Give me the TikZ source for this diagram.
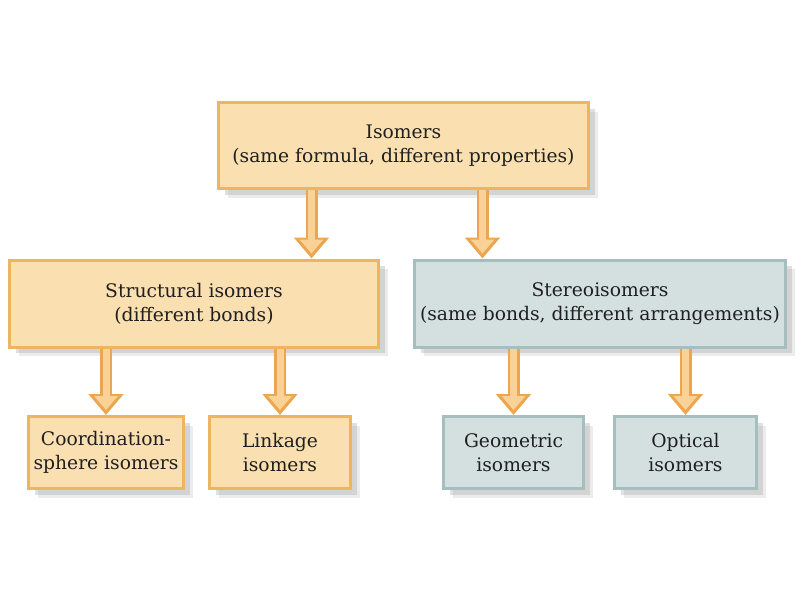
\documentclass[tikz,border=0pt]{standalone}
\usepackage{fontspec}
\setmainfont{DejaVu Serif}
\usetikzlibrary{arrows.meta,shadows}
\definecolor{isoOrange}{RGB}{238,180,96}
\definecolor{isoPeach}{RGB}{250,223,176}
\definecolor{isoTeal}{RGB}{166,190,190}
\definecolor{isoMist}{RGB}{212,224,224}
\definecolor{isoArrow}{RGB}{236,166,80}
\definecolor{isoArrowLight}{RGB}{250,210,152}

\begin{document}
\begin{tikzpicture}[x=1pt,y=-1pt,
		isobox/.style={
			line width=3pt,
			align=center,
			inner sep=2pt,
			font=\fontsize{18.7}{24}\selectfont,
			text=black!88,
			drop shadow={shadow xshift=9pt,shadow yshift=-9pt,fill=black!30,opacity=0.25},
			drop shadow={shadow xshift=6pt,shadow yshift=-6pt,fill=black!35,opacity=0.35}
		},
		warmbox/.style={isobox,draw=isoOrange,fill=isoPeach,
			append after command={[draw=isoPeach!35!white,line width=1pt]
				([shift={(3pt,-3pt)}]\tikzlastnode.north west) rectangle ([shift={(-3pt,3pt)}]\tikzlastnode.south east)}},
		coolbox/.style={isobox,draw=isoTeal,fill=isoMist,
			append after command={[draw=isoMist!35!white,line width=1pt]
				([shift={(3pt,-3pt)}]\tikzlastnode.north west) rectangle ([shift={(-3pt,3pt)}]\tikzlastnode.south east)}},
		flow/.style={
			draw=isoArrow,
			line width=12pt,
			-{Triangle[width=34pt,length=21pt]},
			postaction={draw=isoArrowLight,line width=7pt,shorten >=5pt,-{Triangle[width=23pt,length=14pt]}}
		}
	]
	\useasboundingbox (0,0) rectangle (801,600);

	% top of the tree
	\node[warmbox,minimum width=370pt,minimum height=86pt] (isomers) at (403.5,145.5)
		{Isomers\\(same formula, different properties)};

	% second level
	\node[warmbox,minimum width=369pt,minimum height=87pt] (structural) at (194,303.5)
		{Structural isomers\\(different bonds)};
	\node[coolbox,minimum width=371pt,minimum height=87pt] (stereo) at (600,303.5)
		{Stereoisomers\\(same bonds, different arrangements)};

	% leaves
	\node[warmbox,minimum width=155pt,minimum height=72pt] (coordination) at (106,452.5)
		{Coordination-\\sphere isomers};
	\node[warmbox,minimum width=141pt,minimum height=72pt] (linkage) at (280,452.5)
		{Linkage\\isomers};
	\node[coolbox,minimum width=140pt,minimum height=72pt] (geometric) at (513.5,452.5)
		{Geometric\\isomers};
	\node[coolbox,minimum width=142pt,minimum height=72pt] (optical) at (685.5,452.5)
		{Optical\\isomers};

	% arrows
	\coordinate (splitL) at ([xshift=-92pt]isomers.south);
	\coordinate (splitR) at ([xshift=79pt]isomers.south);
	\draw[flow] (splitL) -- (splitL |- structural.north);
	\draw[flow] (splitR) -- (splitR |- stereo.north);
	\draw[flow] (structural.south -| coordination.north) -- (coordination.north);
	\draw[flow] (structural.south -| linkage.north) -- (linkage.north);
	\draw[flow] (stereo.south -| geometric.north) -- (geometric.north);
	\draw[flow] (stereo.south -| optical.north) -- (optical.north);
\end{tikzpicture}
\end{document}
